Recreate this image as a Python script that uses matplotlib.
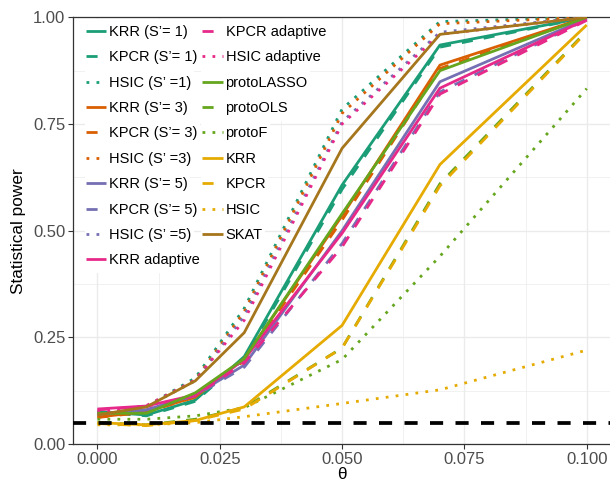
import matplotlib
matplotlib.use('Agg')
import matplotlib.pyplot as plt
from matplotlib.patches import Rectangle

plt.rcParams['font.family'] = ['Liberation Sans', 'DejaVu Sans']

theta = [0.0, 0.01, 0.02, 0.03, 0.05, 0.07, 0.10]

labels = ["KRR (S’= 1)", "KPCR (S’= 1)", "HSIC (S’ =1)",
          "KRR (S’= 3)", "KPCR (S’= 3)", "HSIC (S’ =3)",
          "KRR (S’= 5)", "KPCR (S’= 5)", "HSIC (S’ =5)",
          "KRR adaptive", "KPCR adaptive", "HSIC adaptive",
          "protoLASSO", "protoOLS", "protoF",
          "KRR", "KPCR", "HSIC", "SKAT"]

krr_s1 = [0.076, 0.068, 0.103, 0.205, 0.607, 0.935, 1.0]
kpcr_s1 = [0.075, 0.066, 0.100, 0.200, 0.597, 0.930, 1.0]
hsic_s1 = [0.070, 0.088, 0.155, 0.318, 0.785, 0.990, 1.0]
krr_s3 = [0.063, 0.076, 0.110, 0.200, 0.535, 0.888, 1.0]
kpcr_s3 = [0.062, 0.075, 0.110, 0.195, 0.525, 0.880, 1.0]
hsic_s3 = [0.068, 0.087, 0.150, 0.310, 0.775, 0.985, 1.0]
krr_s5 = [0.070, 0.080, 0.115, 0.185, 0.500, 0.849, 0.997]
kpcr_s5 = [0.070, 0.080, 0.113, 0.180, 0.470, 0.825, 0.995]
hsic_s5 = [0.070, 0.088, 0.148, 0.300, 0.755, 0.965, 1.0]
krr_ad = [0.082, 0.089, 0.115, 0.198, 0.494, 0.834, 0.995]
kpcr_ad = [0.080, 0.088, 0.113, 0.190, 0.462, 0.820, 0.993]
hsic_ad = [0.075, 0.090, 0.150, 0.290, 0.750, 0.960, 1.0]
proto_lasso = [0.072, 0.072, 0.120, 0.200, 0.540, 0.875, 1.0]
proto_ols = [0.050, 0.045, 0.058, 0.085, 0.225, 0.610, 0.968]
proto_f = [0.058, 0.058, 0.066, 0.085, 0.198, 0.440, 0.833]
krr = [0.050, 0.045, 0.055, 0.087, 0.278, 0.655, 0.982]
kpcr = [0.048, 0.043, 0.055, 0.082, 0.225, 0.605, 0.966]
hsic = [0.045, 0.045, 0.050, 0.064, 0.095, 0.127, 0.220]
skat = [0.068, 0.087, 0.148, 0.261, 0.693, 0.960, 1.0]

series = [krr_s1, kpcr_s1, hsic_s1, krr_s3, kpcr_s3, hsic_s3,
          krr_s5, kpcr_s5, hsic_s5, krr_ad, kpcr_ad, hsic_ad,
          proto_lasso, proto_ols, proto_f, krr, kpcr, hsic, skat]

teal, orange, purple, pink = '#1B9E77', '#D95F02', '#7570B3', '#E7298A'
green, yellow, brown = '#66A61E', '#E6AB02', '#A6761D'
colors = [teal] * 3 + [orange] * 3 + [purple] * 3 + [pink] * 3 + \
         [green] * 3 + [yellow] * 3 + [brown]
styles = ['solid', 'dashed', 'dotted'] * 6 + ['solid']
dash = {'solid': 'solid', 'dashed': (0, (4, 4)), 'dotted': (0, (1, 2.6))}

fig = plt.figure(figsize=(6.1, 4.82), dpi=100)
ax = fig.add_axes([73 / 610, 38 / 482, 538.2 / 610, 426.7 / 482])

for ys, c, s, lab in zip(series, colors, styles, labels):
    ax.plot(theta, ys, color=c, lw=2.0, linestyle=dash[s], label=lab,
            solid_capstyle='butt', dash_capstyle='butt', zorder=3)

ax.axhline(0.05, color='black', lw=2.7, linestyle=(0, (3.5, 3.3)), zorder=3)

ax.set_xlim(-0.005, 0.105)
ax.set_ylim(0, 1)
ax.set_xticks([0, 0.025, 0.05, 0.075, 0.1])
ax.set_xticklabels(['0.000', '0.025', '0.050', '0.075', '0.100'])
ax.set_yticks([0, 0.25, 0.5, 0.75, 1.0])
ax.set_yticklabels(['0.00', '0.25', '0.50', '0.75', '1.00'])
ax.set_xticks([0.0125, 0.0375, 0.0625, 0.0875], minor=True)
ax.set_yticks([0.125, 0.375, 0.625, 0.875], minor=True)
ax.grid(True, which='major', color='#EBEBEB', lw=1.0, zorder=0)
ax.grid(True, which='minor', color='#EBEBEB', lw=0.5, zorder=0)
ax.set_axisbelow(True)
ax.tick_params(which='major', length=3.5, width=0.8, color='#333333',
               labelcolor='#4D4D4D', labelsize=12, pad=2)
ax.tick_params(which='minor', length=0)
for sp in ax.spines.values():
    sp.set_color('#333333')
    sp.set_linewidth(0.9)

ax.set_xlabel('θ', fontsize=12.4, labelpad=0.5)
ax.set_ylabel('Statistical power', fontsize=12.4, labelpad=5)

leg = ax.legend(ncol=2, loc='upper left', bbox_to_anchor=(0.024, 0.982),
                fontsize=10.5, frameon=False, handlelength=1.4,
                handletextpad=0.2, labelspacing=0.78, columnspacing=0.15,
                borderpad=0, borderaxespad=0)
leg.set_zorder(5)

# white background behind each legend entry (key + label), like the original
fig.canvas.draw()
inv = ax.transAxes.inverted()
row_h = 25.3
for h, t in zip(leg.legend_handles, leg.get_texts()):
    hb = h.get_window_extent()
    tb = t.get_window_extent()
    yc = (tb.y0 + tb.y1) / 2
    x0, y0 = inv.transform((hb.x0 - 1, yc - row_h / 2))
    x1, y1 = inv.transform((tb.x1 + 2, yc + row_h / 2))
    ax.add_patch(Rectangle((x0, y0), x1 - x0, y1 - y0, transform=ax.transAxes,
                           facecolor='white', edgecolor='none', zorder=1))

fig.savefig('out.png', dpi=100)
